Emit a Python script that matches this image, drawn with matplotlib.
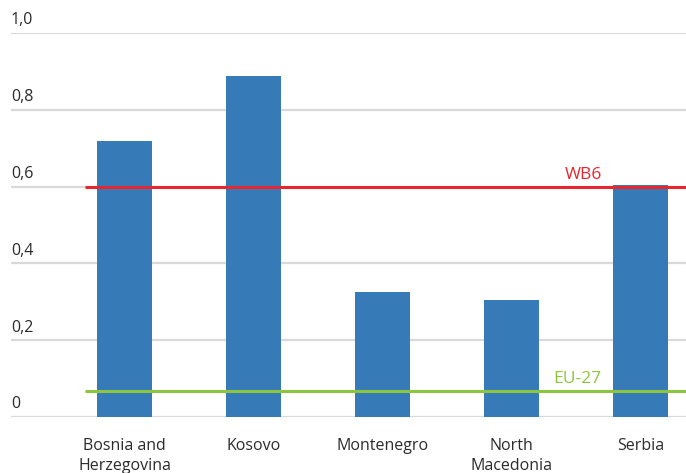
import matplotlib.pyplot as plt
import numpy as np

plt.rcParams['font.family'] = ['Open Sans', 'DejaVu Sans']

countries = ['Bosnia and\nHerzegovina', 'Kosovo', 'Montenegro', 'North\nMacedonia', 'Serbia']
values = [0.719, 0.888, 0.326, 0.305, 0.604]
wb6 = 0.6
eu27 = 0.068
yticks = [0, 0.2, 0.4, 0.6, 0.8, 1.0]
ylabels = ['0', '0,2', '0,4', '0,6', '0,8', '1,0']

fig = plt.figure(figsize=(6.86, 4.73), dpi=100)
ax = fig.add_axes([11/686, 1-417/473, 1-11/686, (417-33)/473])

x = np.arange(len(countries))
ax.bar(x, values, width=0.426, color='#367BB8', zorder=2)

# reference lines
ax.plot([-0.306, 4.36], [wb6, wb6], color='#E8262F', lw=2.2, zorder=3, solid_capstyle='butt')
ax.plot([-0.306, 4.36], [eu27, eu27], color='#8CC63F', lw=2.2, zorder=3, solid_capstyle='butt')
ax.text(3.56, wb6 + 0.01, 'WB6', color='#E8262F', fontsize=12.5, ha='center', va='bottom')
ax.text(3.51, eu27 + 0.01, 'EU-27', color='#8CC63F', fontsize=12.5, ha='center', va='bottom')

ax.set_xlim(-0.88, 4.353)
ax.set_ylim(0, 1.0)

# gridlines with labels sitting on top of them
for t, lab in zip(yticks, ylabels):
    ax.axhline(t, color='#D9D9D9', lw=1.6, zorder=1)
    ax.text(0.0, t + 0.012, lab, transform=ax.get_yaxis_transform(), fontsize=11.5,
            color='#2B2B2B', ha='left', va='bottom')

ax.set_yticks([])
ax.set_xticks(x)
ax.set_xticklabels(countries, fontsize=11.5, color='#2B2B2B', linespacing=1.35, va='top')
ax.tick_params(axis='x', length=0, pad=15)
for s in ax.spines.values():
    s.set_visible(False)

fig.savefig('out.png', dpi=100)
